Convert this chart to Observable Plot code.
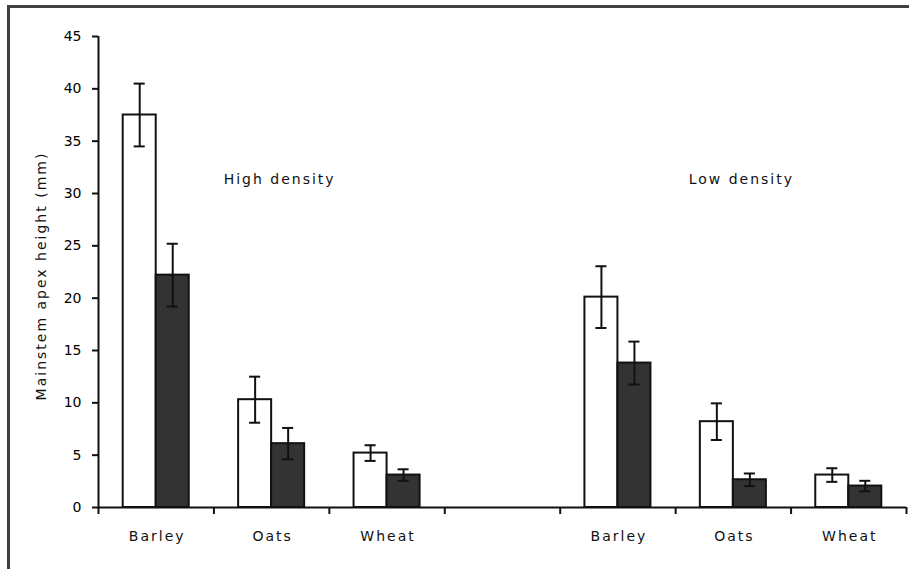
<!DOCTYPE html>
<html>
<head>
<meta charset="utf-8">
<script src="https://cdn.jsdelivr.net/npm/d3@7"></script>
<script src="https://cdn.jsdelivr.net/npm/@observablehq/plot@0.6"></script>
<style>
  html, body { margin: 0; padding: 0; background: #fff; }
  #wrap { position: relative; width: 909px; height: 569px; overflow: hidden; }
  #border { position: absolute; left: 7px; top: 5px; width: 910px; height: 561px;
            border-left: 3px solid #404040; border-top: 3px solid #404040;
            border-bottom: 1px solid #a8a8a8; pointer-events: none; }
  svg text { letter-spacing: 2px; }
  svg [aria-label="y-axis tick label"] text { letter-spacing: 0; }
  svg [aria-label="y-axis tick"] path, svg [aria-label="x-axis tick"] path { stroke-width: 2px; stroke: #111; }
</style>
</head>
<body>
<div id="wrap"><div id="border"></div></div>
<script>
// ---- data ----
const crops = ["Barley", "Oats", "Wheat"];
const densities = ["High density", "Low density"];
// open (white) bars
const highOpen = [37.5, 10.3, 5.2];
const highOpenErr = [3.0, 2.2, 0.75];
const lowOpen = [20.1, 8.2, 3.1];
const lowOpenErr = [2.95, 1.75, 0.65];
// filled (dark) bars
const highFilled = [22.2, 6.1, 3.1];
const highFilledErr = [3.0, 1.5, 0.55];
const lowFilled = [13.8, 2.65, 2.05];
const lowFilledErr = [2.05, 0.6, 0.5];
// slot index of each crop on the x axis (slot 3 is an empty gap)
const highSlots = [0, 1, 2];
const lowSlots = [4, 5, 6];
const yTicks = [0, 5, 10, 15, 20, 25, 30, 35, 40, 45];
const yLabel = "Mainstem apex height (mm)";

// ---- build table ----
const rows = [];
function add(slots, density, open, openErr, filled, filledErr) {
  crops.forEach((c, i) => {
    rows.push({slot: slots[i], crop: c, density, series: "open", value: open[i], err: openErr[i]});
    rows.push({slot: slots[i], crop: c, density, series: "filled", value: filled[i], err: filledErr[i]});
  });
}
add(highSlots, densities[0], highOpen, highOpenErr, highFilled, highFilledErr);
add(lowSlots, densities[1], lowOpen, lowOpenErr, lowFilled, lowFilledErr);

const barW = 0.286;   // bar width as fraction of a slot
const capW = 0.048;   // half width of error caps
const x1 = d => d.series === "open" ? d.slot + 0.5 - barW : d.slot + 0.5;
const x2 = d => d.series === "open" ? d.slot + 0.5 : d.slot + 0.5 + barW;
const xc = d => (x1(d) + x2(d)) / 2;

const labels = [
  ...crops.map((c, i) => ({x: highSlots[i] + 0.5, text: c})),
  ...crops.map((c, i) => ({x: lowSlots[i] + 0.5, text: c}))
];
const densityLabels = [
  {x: highSlots[1] + 0.5, y: 31.3, text: densities[0]},
  {x: lowSlots[1] + 0.5, y: 31.3, text: densities[1]}
];

const chart = Plot.plot({
  width: 909,
  height: 569,
  marginLeft: 98,
  marginRight: 3,
  marginTop: 36,
  marginBottom: 62,
  style: {fontFamily: "'DejaVu Sans', sans-serif", fontSize: "14px", color: "#000", background: "transparent", overflow: "visible"},
  x: {domain: [0, 7], ticks: 7, tickFormat: () => "", tickSize: 7, label: null},
  y: {domain: [0, 45], ticks: 9, tickSize: 6, tickPadding: 11, label: null},
  marks: [
    Plot.rectY(rows, {
      x1, x2, y1: 0, y2: "value",
      fill: d => d.series === "open" ? "#ffffff" : "#333333",
      stroke: "#111", strokeWidth: 2
    }),
    Plot.ruleX(rows, {x: xc, y1: d => d.value - d.err, y2: d => d.value + d.err, stroke: "#111", strokeWidth: 2}),
    Plot.ruleY(rows, {y: d => d.value + d.err, x1: d => xc(d) - capW, x2: d => xc(d) + capW, stroke: "#111", strokeWidth: 2}),
    Plot.ruleY(rows, {y: d => d.value - d.err, x1: d => xc(d) - capW, x2: d => xc(d) + capW, stroke: "#111", strokeWidth: 2}),
    Plot.ruleY([0], {stroke: "#111", strokeWidth: 2}),
    Plot.ruleX([0], {stroke: "#111", strokeWidth: 2}),
    Plot.text(labels, {x: "x", y: 0, dy: 29, dx: 1, text: "text", fill: "#111"}),
    Plot.text(densityLabels, {x: "x", y: "y", dx: 8, text: "text", fill: "#111"}),
    Plot.text([yLabel], {frameAnchor: "left", textAnchor: "middle", rotate: -90, dx: -57, dy: 4, text: d => d, fill: "#111"})
  ]
});
document.getElementById("wrap").insertBefore(chart, document.getElementById("border"));
</script>
</body>
</html>
